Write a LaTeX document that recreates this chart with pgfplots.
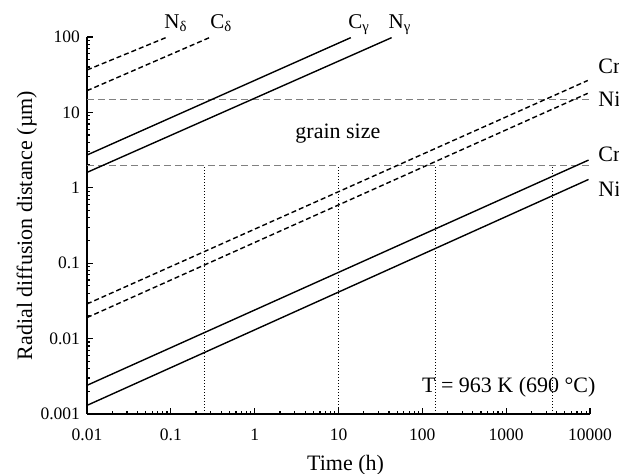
\documentclass[border=0pt]{standalone}
\usepackage{fontspec}
\setmainfont{Liberation Serif}
\usepackage{pgfplots}
\pgfplotsset{compat=1.18}
\usetikzlibrary{calc}
\begin{document}
\begin{tikzpicture}
\begin{axis}[name=ax,
  scale only axis, width=251.5pt, height=188.5pt,
  xmode=log, ymode=log,
  xmin=0.01, xmax=10000, ymin=0.001, ymax=100,
  axis x line=bottom, axis y line=left,
  axis line style={-, line width=0.8pt},
  tick align=inside,
  major tick length=3pt, minor tick length=1.6pt,
  every tick/.style={black, line width=0.6pt},
  xtick={0.01,0.1,1,10,100,1000,10000},
  xticklabels={0.01,0.1,1,10,100,1000,10000},
  ytick={0.001,0.01,0.1,1,10,100},
  yticklabels={0.001,0.01,0.1,1,10,100},
  tick label style={font=\fontsize{8.75}{10}\selectfont},
  xticklabel style={yshift=-4pt},
  label style={font=\fontsize{11}{13}\selectfont},
  xlabel={Time (h)},
  ylabel={Radial diffusion distance (µm)},
  xlabel style={at={(axis description cs:0.514,0)}, anchor=base, yshift=-28pt},
  ylabel style={at={(axis description cs:-0.1093,0.5)}, anchor=base},
  clip=false,
]
% grain size lines
\addplot[gray, line width=0.5pt, dash pattern=on 3.5pt off 2pt] coordinates {(0.01,15) (10000,15)};
\addplot[gray, line width=0.5pt, dash pattern=on 3.5pt off 2pt] coordinates {(0.01,2) (10000,2)};
% vertical dotted lines
\addplot[black, line width=0.5pt, dash pattern=on 0.5pt off 1pt] coordinates {(0.25,0.001) (0.25,2)};
\addplot[black, line width=0.5pt, dash pattern=on 0.5pt off 1pt] coordinates {(10,0.001) (10,2)};
\addplot[black, line width=0.5pt, dash pattern=on 0.5pt off 1pt] coordinates {(144,0.001) (144,2)};
\addplot[black, line width=0.5pt, dash pattern=on 0.5pt off 1pt] coordinates {(3600,0.001) (3600,2)};
% solid Cr, Ni
\addplot[black, line width=0.7pt] coordinates {(0.01,0.0024) (9600,2.33)};
\addplot[black, line width=0.7pt] coordinates {(0.01,0.0013) (9600,1.29)};
% dashed Cr, Ni
\addplot[black, line width=0.7pt, dash pattern=on 2.5pt off 1.5pt] coordinates {(0.01,0.0288) (9400,26.5)};
\addplot[black, line width=0.7pt, dash pattern=on 2.5pt off 1.5pt] coordinates {(0.01,0.0190) (9400,17.9)};
% gamma
\addplot[black, line width=0.7pt] coordinates {(0.01,2.72) (14,98)};
\addplot[black, line width=0.7pt] coordinates {(0.01,1.6) (43,98)};
% delta
\addplot[black, line width=0.7pt, dash pattern=on 2.5pt off 1.5pt] coordinates {(0.01,36.5) (0.087,98)};
\addplot[black, line width=0.7pt, dash pattern=on 2.5pt off 1.5pt] coordinates {(0.01,19.4) (0.288,98)};
% labels
\begin{scope}[every node/.style={font=\fontsize{10.5}{12}\selectfont, anchor=base west, inner sep=0pt}]
\node at (axis cs:0.0828,131.6) {N\textsubscript{δ}};
\node at (axis cs:0.293,131.6) {C\textsubscript{δ}};
\node at (axis cs:13.0,131.6) {C\textsubscript{γ}};
\node at (axis cs:39.3,131.6) {N\textsubscript{γ}};
\end{scope}
\begin{scope}[every node/.style={font=\fontsize{11}{13}\selectfont, anchor=base west, inner sep=0pt}]
\node at (axis cs:12450,32.8) {Cr};
\node at (axis cs:12450,11.98) {Ni};
\node at (axis cs:12450,2.22) {Cr};
\node at (axis cs:12450,0.767) {Ni};
\node at (axis cs:3.03,4.57) {grain size};
\node at (axis cs:98.2,0.00191) {T = 963 K (690 °C)};
\end{scope}
\end{axis}
\pgfresetboundingbox
\path[use as bounding box] ($(ax.south west)+(-43.5pt,-30pt)$) rectangle ($(ax.north east)+(14.5pt,18.5pt)$);
\end{tikzpicture}
\end{document}
